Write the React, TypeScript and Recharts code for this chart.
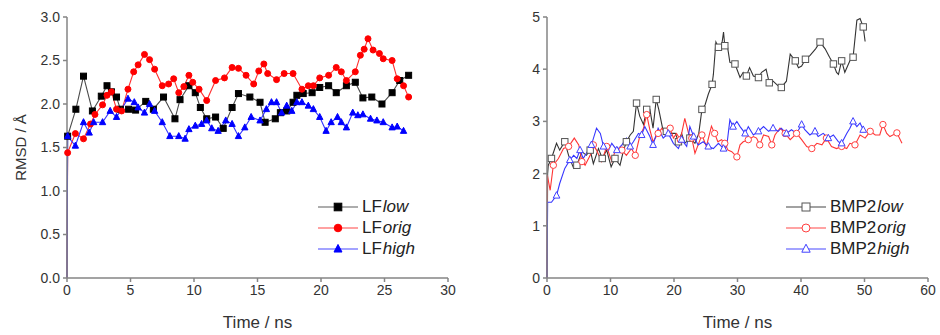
import React from 'react';
import { LineChart, Line, XAxis, YAxis, Legend } from 'recharts';

type Pt = [number, number];

// left panel: LF, time (ns) / RMSD (Å)
const lfLow: Pt[] = [
  [0, 0], [0.05, 1.63], [0.7, 1.94], [1.3, 2.32], [2.0, 1.92], [2.7, 2.09], [3.15, 2.21], [3.5, 2.14],
  [3.9, 2.08], [4.2, 1.94], [4.85, 1.94], [5.4, 1.93], [6.2, 2.03], [6.8, 1.94], [7.6, 2.08], [8.5, 1.83],
  [8.9, 2.05], [9.6, 2.21], [10.1, 2.13], [10.5, 1.96], [11.0, 1.83], [11.7, 1.85], [12.3, 1.72], [13.0, 1.96],
  [13.5, 2.12], [14.4, 2.08], [15.2, 2.02], [15.6, 1.79], [16.4, 1.83], [16.8, 1.9], [17.3, 1.92], [17.8, 2.02],
  [18.1, 2.1], [18.6, 2.12], [19.3, 2.13], [19.9, 2.19], [20.6, 2.21], [21.2, 2.13], [22.0, 2.21], [22.7, 2.25],
  [23.3, 2.07], [24.0, 2.08], [24.8, 2.0], [25.6, 2.13], [26.2, 2.27], [26.9, 2.33],
];
const lfOrig: Pt[] = [
  [0, 0], [0.05, 1.44], [0.66, 1.66], [1.3, 1.6], [1.85, 1.77], [2.2, 1.88], [2.8, 1.99], [3.15, 2.1],
  [3.5, 2.14], [3.9, 1.94], [4.3, 1.92], [4.8, 2.17], [5.25, 2.37], [5.6, 2.45], [6.1, 2.57], [6.5, 2.51],
  [6.9, 2.4], [7.5, 2.21], [8.0, 2.23], [8.4, 2.29], [8.8, 2.13], [9.2, 2.2], [9.6, 2.33], [9.9, 2.25],
  [10.4, 2.17], [11.0, 2.04], [11.7, 2.27], [12.4, 2.3], [13.0, 2.42], [13.5, 2.41], [14.1, 2.33], [14.7, 2.23],
  [15.1, 2.38], [15.5, 2.46], [15.8, 2.35], [16.5, 2.28], [17.1, 2.35], [17.8, 2.35], [18.5, 2.17], [19.0, 2.21],
  [19.4, 2.21], [19.9, 2.3], [20.6, 2.33], [21.2, 2.42], [21.6, 2.37], [22.0, 2.27], [22.7, 2.37], [23.1, 2.56],
  [23.4, 2.63], [23.7, 2.75], [24.1, 2.62], [24.6, 2.58], [24.9, 2.52], [25.6, 2.5], [26.0, 2.29], [26.5, 2.21],
  [26.9, 2.08],
];
const lfHigh: Pt[] = [
  [0, 0], [0.05, 1.63], [0.66, 1.52], [1.3, 1.79], [1.75, 1.67], [2.1, 1.79], [2.8, 1.79], [3.4, 1.92],
  [3.9, 1.85], [4.8, 2.06], [5.3, 2.02], [5.6, 1.96], [6.1, 1.9], [6.5, 2.0], [6.9, 1.92], [7.5, 1.79],
  [8.1, 1.63], [8.8, 1.63], [9.3, 1.6], [9.6, 1.71], [10.1, 1.75], [10.6, 1.77], [11.0, 1.81], [11.4, 1.72],
  [11.9, 1.69], [12.5, 1.81], [13.0, 1.77], [13.5, 1.63], [14.0, 1.73], [14.5, 1.85], [15.2, 1.81], [15.7, 1.94],
  [16.1, 2.02], [16.5, 2.02], [16.9, 1.9], [17.3, 1.98], [17.7, 1.92], [18.1, 2.02], [18.5, 2.02], [19.0, 1.98],
  [19.4, 1.94], [19.9, 1.85], [20.4, 1.69], [20.8, 1.79], [21.3, 1.85], [21.6, 1.79], [22.0, 1.73], [22.5, 1.9],
  [22.9, 1.87], [23.3, 1.88], [23.9, 1.83], [24.4, 1.81], [24.9, 1.79], [25.6, 1.73], [26.0, 1.74], [26.5, 1.69],
];

// right panel: BMP2
const bmpLow: Pt[] = [
  [0, 0], [0.1, 2.0], [0.2, 2.16], [0.7, 2.29], [1.5, 2.58], [2.0, 2.45], [2.8, 2.61], [3.4, 2.35],
  [4.2, 2.1], [4.7, 2.16], [5.5, 2.42], [6.2, 2.35], [6.8, 2.45], [7.3, 2.19], [8.1, 2.48], [8.7, 2.29],
  [9.4, 2.45], [10.1, 2.13], [10.7, 2.29], [11.5, 2.16], [12.0, 2.42], [12.5, 2.61], [13.1, 2.74], [13.6, 2.81],
  [14.1, 3.35], [14.6, 3.1], [15.2, 2.94], [15.7, 3.23], [16.2, 3.23], [16.7, 2.87], [17.2, 3.42], [17.6, 3.23],
  [18.2, 2.87], [18.8, 2.81], [19.4, 2.77], [20.2, 2.77], [20.7, 2.61], [21.2, 2.77], [21.7, 2.58], [22.5, 2.68],
  [23.3, 2.58], [23.9, 2.77], [24.4, 3.23], [24.9, 3.32], [25.4, 3.52], [26.0, 3.71], [26.2, 3.9], [26.6, 4.52],
  [27.0, 4.42], [27.5, 4.45], [27.8, 4.71], [28.0, 4.45], [28.4, 4.45], [28.8, 4.13], [29.6, 4.1], [30.4, 3.84],
  [30.9, 3.94], [31.4, 3.87], [31.9, 4.03], [32.5, 3.87], [33.3, 3.84], [33.8, 3.94], [34.5, 4.0], [35.0, 3.74],
  [35.6, 3.77], [36.4, 3.68], [36.9, 3.65], [37.7, 3.77], [38.3, 4.29], [39.1, 4.16], [39.6, 4.03], [40.1, 4.06],
  [40.7, 4.19], [41.4, 4.26], [42.3, 4.39], [43.0, 4.52], [43.8, 4.39], [44.5, 4.23], [45.1, 4.1], [45.6, 3.94],
  [45.9, 3.9], [46.4, 4.16], [46.9, 3.94], [47.7, 4.16], [48.2, 4.23], [48.8, 4.94], [49.3, 4.97], [49.8, 4.81],
  [50.1, 4.53],
];
const bmpOrig: Pt[] = [
  [0, 0], [0.05, 1.97], [0.5, 1.68], [1.0, 2.16], [1.8, 2.29], [2.6, 2.48], [3.4, 2.52], [4.3, 2.68],
  [5.0, 2.55], [5.5, 2.23], [6.0, 2.16], [6.8, 2.35], [7.3, 2.55], [7.8, 2.45], [8.6, 2.23], [9.4, 2.52],
  [10.2, 2.23], [10.7, 2.42], [11.8, 2.45], [12.5, 2.35], [13.3, 2.48], [13.9, 2.35], [14.6, 2.71], [15.2, 2.87],
  [15.7, 3.13], [16.2, 2.84], [16.7, 2.61], [17.5, 2.77], [18.1, 2.87], [18.6, 2.77], [19.4, 2.87], [19.9, 2.68],
  [20.4, 2.77], [21.0, 2.65], [21.7, 3.06], [22.3, 2.77], [22.8, 2.68], [23.3, 2.39], [23.8, 2.55], [24.4, 2.74],
  [25.1, 2.52], [25.9, 2.91], [26.4, 2.77], [26.9, 2.61], [27.5, 2.65], [28.0, 2.58], [28.5, 2.45], [29.1, 2.42],
  [29.9, 2.32], [30.4, 2.55], [30.9, 2.61], [31.7, 2.65], [32.5, 2.71], [33.0, 2.68], [33.5, 2.55], [34.1, 2.74],
  [34.9, 2.71], [35.4, 2.55], [35.9, 2.74], [36.7, 2.87], [37.5, 2.77], [38.3, 2.65], [38.8, 2.71], [39.3, 2.77],
  [40.1, 2.65], [40.9, 2.52], [41.7, 2.48], [42.5, 2.58], [43.3, 2.55], [44.0, 2.68], [44.8, 2.52], [45.6, 2.48],
  [46.4, 2.52], [47.2, 2.48], [47.7, 2.58], [48.5, 2.55], [49.3, 2.74], [50.1, 2.68], [50.9, 2.81], [51.7, 2.74],
  [52.4, 2.74], [52.9, 2.94], [53.5, 2.77], [54.0, 2.71], [55.1, 2.78], [55.9, 2.58],
];
const bmpHigh: Pt[] = [
  [0, 0], [0.1, 1.45], [0.7, 1.45], [1.5, 1.58], [2.0, 1.81], [2.8, 2.1], [3.6, 2.26], [4.2, 2.35],
  [4.7, 2.29], [5.2, 2.45], [5.7, 2.29], [6.2, 2.39], [7.0, 2.55], [7.8, 2.87], [8.4, 2.77], [8.9, 2.52],
  [9.7, 2.45], [10.2, 2.58], [11.0, 2.45], [11.8, 2.55], [12.5, 2.68], [13.1, 2.52], [13.6, 2.61], [14.4, 2.77],
  [14.9, 2.74], [15.4, 2.9], [16.2, 2.71], [16.7, 2.55], [17.5, 2.87], [18.3, 2.68], [19.1, 2.77], [19.9, 2.58],
  [20.7, 2.48], [21.2, 2.65], [22.0, 2.52], [22.5, 2.9], [23.1, 2.71], [23.8, 2.55], [24.6, 2.61], [25.4, 2.52],
  [26.2, 2.48], [27.0, 2.58], [27.8, 2.48], [28.3, 2.52], [28.8, 3.03], [29.3, 2.9], [29.9, 3.0], [30.4, 2.9],
  [31.2, 2.77], [31.7, 2.9], [32.5, 2.74], [33.3, 2.81], [34.1, 2.9], [34.9, 2.81], [35.6, 2.87], [36.4, 2.81],
  [36.9, 2.87], [37.7, 2.77], [38.5, 2.84], [39.3, 2.77], [40.1, 2.94], [40.6, 2.84], [41.4, 2.74], [42.2, 2.81],
  [42.7, 2.71], [43.5, 2.77], [44.3, 2.68], [45.1, 2.74], [45.9, 2.61], [46.4, 2.58], [47.2, 2.77], [47.7, 2.87],
  [48.2, 3.0], [48.8, 2.9], [49.3, 2.97], [49.8, 2.84], [50.1, 2.81],
];

const leftXTicks = [0, 5, 10, 15, 20, 25, 30];
const leftYTicks = [0, 0.5, 1, 1.5, 2, 2.5, 3];
const rightXTicks = [0, 10, 20, 30, 40, 50, 60];
const rightYTicks = [0, 1, 2, 3, 4, 5];

const FONT = '"Liberation Sans", Arial, sans-serif';
const AXIS = '#858585';
const TEXT = '#333';

const rows = (pts: Pt[]) => pts.map(([t, v]) => ({ t, v }));

type Shape = 'square' | 'circle' | 'triangle';

const Marker = ({ shape, cx, cy, color, open, s }: any) => {
  const fill = open ? '#fff' : color;
  if (shape === 'square')
    return <rect x={cx - s} y={cy - s} width={2 * s} height={2 * s} fill={fill} stroke={color} strokeWidth={1} />;
  if (shape === 'circle') return <circle cx={cx} cy={cy} r={s} fill={fill} stroke={color} strokeWidth={1} />;
  return (
    <polygon
      points={`${cx},${cy - s * 1.2} ${cx + s * 1.05},${cy + s * 0.8} ${cx - s * 1.05},${cy + s * 0.8}`}
      fill={fill}
      stroke={color}
      strokeWidth={1}
    />
  );
};

const makeDot = (shape: Shape, color: string, open: boolean, s: number, every: number) => (p: any) => {
  const { cx, cy, index, payload } = p;
  if (cx == null || payload.v === 0 || index % every !== 0) return <g key={`d${index}`} />;
  return (
    <g key={`d${index}`}>
      <Marker shape={shape} cx={cx} cy={cy} color={color} open={open} s={s} />
    </g>
  );
};

const leftSeries = [
  { name: 'LF', tag: 'low', pts: lfLow, line: '#4a4a4a', mark: '#000', shape: 'square' as Shape },
  { name: 'LF', tag: 'orig', pts: lfOrig, line: '#ff3030', mark: '#ff0000', shape: 'circle' as Shape },
  { name: 'LF', tag: 'high', pts: lfHigh, line: '#3535ff', mark: '#0000ff', shape: 'triangle' as Shape },
];
const rightSeries = [
  { name: 'BMP2', tag: 'low', pts: bmpLow, line: '#333', mark: '#555', shape: 'square' as Shape },
  { name: 'BMP2', tag: 'orig', pts: bmpOrig, line: '#ff3535', mark: '#ff4040', shape: 'circle' as Shape },
  { name: 'BMP2', tag: 'high', pts: bmpHigh, line: '#3535ff', mark: '#4040ff', shape: 'triangle' as Shape },
];

const LegendBox = ({ series, open }: any) => (
  <div style={{ fontFamily: FONT, fontSize: 17, color: '#222' }}>
    {series.map((s: any) => (
      <div key={s.tag} style={{ display: 'flex', alignItems: 'center', height: 21 }}>
        <svg width={40} height={14} style={{ overflow: 'visible' }}>
          <line x1={0} y1={7} x2={40} y2={7} stroke={s.line} strokeWidth={1.5} opacity={0.6} />
          <Marker shape={s.shape} cx={20} cy={7} color={s.mark} open={open} s={open ? 4 : 3.8} />
        </svg>
        <span style={{ marginLeft: 4 }}>
          {s.name}
          <i style={{ marginLeft: 1 }}>{s.tag}</i>
        </span>
      </div>
    ))}
  </div>
);

const axisTick = { fill: TEXT, fontSize: 14, fontFamily: FONT };

const Panel = ({ series, xTicks, yTicks, yFmt, yTitle, width, rightMargin, open, every, size, legendLeft }: any) => {
  const xDomain = [xTicks[0], xTicks[xTicks.length - 1]];
  const yDomain = [yTicks[0], yTicks[yTicks.length - 1]];
  return (
    <LineChart width={width} height={335} margin={{ top: 17, right: rightMargin, bottom: 0, left: 0 }}>
      <XAxis
        dataKey="t"
        type="number"
        domain={xDomain}
        ticks={xTicks}
        height={57}
        stroke={AXIS}
        strokeWidth={1.5}
        tickSize={4}
        tickMargin={3}
        tick={axisTick}
        label={{
          content: ({ viewBox }: any) => (
            <text
              x={viewBox.x + viewBox.width / 2}
              y={viewBox.y + 50}
              textAnchor="middle"
              fill={TEXT}
              fontSize={17}
              fontFamily={FONT}
            >
              Time / ns
            </text>
          ),
        }}
      />
      <XAxis xAxisId="top" orientation="top" type="number" domain={xDomain} height={0} tick={false} tickLine={false} stroke={AXIS} strokeWidth={1.5} />
      <YAxis
        type="number"
        domain={yDomain}
        ticks={yTicks}
        width={67}
        stroke={AXIS}
        strokeWidth={1.5}
        tickSize={4}
        tickMargin={3}
        tick={axisTick}
        tickFormatter={yFmt}
        label={
          yTitle
            ? {
                content: ({ viewBox }: any) => {
                  const cx = viewBox.x + 20;
                  const cy = viewBox.y + viewBox.height / 2;
                  return (
                    <text
                      x={cx}
                      y={cy}
                      transform={`rotate(-90 ${cx} ${cy})`}
                      textAnchor="middle"
                      dominantBaseline="central"
                      fill={TEXT}
                      fontSize={15}
                      fontFamily={FONT}
                    >
                      {yTitle}
                    </text>
                  );
                },
              }
            : undefined
        }
      />
      <YAxis yAxisId="right" orientation="right" type="number" domain={yDomain} width={0} tick={false} tickLine={false} stroke={AXIS} strokeWidth={1.5} />
      {series.map((s: any) => (
        <Line
          key={s.tag}
          data={rows(s.pts)}
          dataKey="v"
          name={s.name + s.tag}
          type="linear"
          stroke={s.line}
          strokeWidth={1.1}
          dot={makeDot(s.shape, s.mark, open, size, every)}
          activeDot={false}
          isAnimationActive={false}
        />
      ))}
      <Legend
        layout="vertical"
        align="center"
        verticalAlign="middle"
        wrapperStyle={{ left: legendLeft, top: 196, width: 'auto' }}
        content={() => <LegendBox series={series} open={open} />}
      />
    </LineChart>
  );
};

export default function App() {
  return (
    <div style={{ position: 'fixed', left: 0, top: 0, width: 940, height: 335, background: '#fff' }}>
      <div style={{ position: 'absolute', left: 0, top: 0 }}>
        <Panel
          series={leftSeries}
          xTicks={leftXTicks}
          yTicks={leftYTicks}
          yFmt={(v: number) => v.toFixed(1)}
          yTitle="RMSD / Å"
          width={470}
          rightMargin={22}
          open={false}
          every={1}
          size={3}
          legendLeft={318}
        />
      </div>
      <div style={{ position: 'absolute', left: 480, top: 0 }}>
        <Panel
          series={rightSeries}
          xTicks={rightXTicks}
          yTicks={rightYTicks}
          yFmt={(v: number) => String(v)}
          width={460}
          rightMargin={12}
          open={true}
          every={3}
          size={3.2}
          legendLeft={306}
        />
      </div>
    </div>
  );
}
